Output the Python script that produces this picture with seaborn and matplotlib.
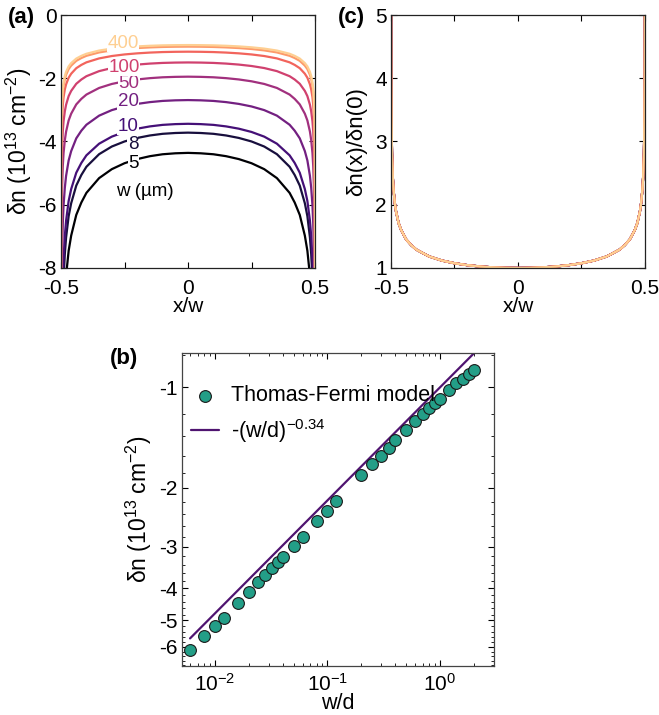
import numpy as np
import pandas as pd
import seaborn as sns
import matplotlib.pyplot as plt
from matplotlib.ticker import FixedLocator, NullFormatter, LogLocator

# ---- data ----
# (a) channel widths (um) and the density at the centre x = 0 (1e13 cm^-2)
widths_um = [5, 8, 10, 20, 50, 100, 200, 300, 400]
dn_center = [-4.36, -3.72, -3.44, -2.69, -1.95, -1.50, -1.16, -1.00, -0.95]
width_labels = ["5", "8", "10", "20", "50", "100", "", "", "400"]

# (c) profile dn(x)/dn(0), half of the channel (symmetric)
x_half = [0.0, 0.05, 0.10, 0.15, 0.20, 0.25, 0.30, 0.35, 0.40, 0.42, 0.44, 0.46,
          0.47, 0.48, 0.485, 0.49, 0.493, 0.496, 0.498, 0.499, 0.4995, 0.4999, 0.49999]
ratio_half = [1.0, 1.003, 1.01, 1.024, 1.045, 1.075, 1.118, 1.183, 1.29, 1.36, 1.45, 1.60,
              1.71, 1.89, 2.03, 2.24, 2.45, 2.82, 3.35, 3.98, 4.73, 7.07, 12.6]

# (b) Thomas-Fermi model points and power-law line
wd = [0.0060, 0.0080, 0.010, 0.012, 0.016, 0.020, 0.024, 0.028, 0.032, 0.036, 0.040,
      0.050, 0.060, 0.080, 0.10, 0.12, 0.20, 0.25, 0.30, 0.35, 0.40, 0.50, 0.60, 0.70,
      0.80, 0.90, 1.0, 1.2, 1.4, 1.6, 1.8, 2.0]
dn_tf = [-6.13, -5.56, -5.21, -4.90, -4.43, -4.10, -3.84, -3.65, -3.49, -3.34, -3.23,
         -2.99, -2.81, -2.52, -2.34, -2.19, -1.83, -1.70, -1.60, -1.52, -1.44, -1.34, -1.26, -1.20,
         -1.15, -1.11, -1.08, -1.016, -0.97, -0.94, -0.91, -0.886]
fit_wd = [0.006, 2.0]
fit_dn = [-5.66, -0.79]

sns.set_theme(style="ticks")
plt.rcParams['font.family'] = ['Liberation Sans', 'DejaVu Sans']
plt.rcParams['mathtext.default'] = 'regular'
plt.rcParams['axes.unicode_minus'] = False
for key in ('text.color', 'axes.labelcolor', 'xtick.color', 'ytick.color'):
    plt.rcParams[key] = 'black'

TICK = 15
LAB = 15

fig = plt.figure(figsize=(6.59, 7.15), dpi=100)
ax_a = fig.add_axes([0.0926, 0.6252, 0.3854, 0.3538])
ax_c = fig.add_axes([0.5933, 0.6252, 0.3854, 0.3538])
ax_b = fig.add_axes([0.2762, 0.0685, 0.4734, 0.4378])

colors = plt.get_cmap('magma')(np.linspace(0, 0.9, len(widths_um)))

# full profile across the channel
x_full = np.concatenate([-np.array(x_half[::-1]), np.array(x_half[1:])])
r_full = np.concatenate([np.array(ratio_half[::-1]), np.array(ratio_half[1:])])

# ---- (a) ----
for w, d0, c in zip(widths_um, dn_center, colors):
    sns.lineplot(x=x_full, y=d0 * r_full, color=c, lw=1.6, ax=ax_a,
                 sort=False, estimator=None)

lab_pos = {"400": (-0.256, -0.89), "100": (-0.252, -1.65), "50": (-0.232, -2.18),
           "20": (-0.236, -2.75), "10": (-0.236, -3.51), "8": (-0.217, -4.08),
           "5": (-0.213, -4.68)}
for lab, c in zip(width_labels, colors):
    if lab:
        px, py = lab_pos[lab]
        ax_a.text(px, py, lab, color=c, fontsize=13.5, ha='center', va='center', zorder=5,
                  bbox=dict(facecolor='white', edgecolor='none', pad=0.2))
ax_a.text(-0.169, -5.57, "w (µm)", fontsize=13.5, ha='center', va='center')

ax_a.set_xlim(-0.5, 0.5)
ax_a.set_ylim(-8, 0)
ax_a.set_xticks([-0.5, -0.25, 0, 0.25, 0.5])
ax_a.set_xticklabels(['-0.5', '', '0', '', '0.5'])
ax_a.set_yticks([-8, -6, -4, -2, 0])
ax_a.set_xlabel('x/w', fontsize=LAB, labelpad=-1)
ax_a.set_ylabel('δn (10$^{13}$ cm$^{-2}$)', fontsize=16.5, labelpad=3)

# ---- (c) ----
for w, d0, c in zip(widths_um, dn_center, colors):
    sns.lineplot(x=x_full, y=(d0 * r_full) / d0, color=c, lw=1.6, ax=ax_c,
                 sort=False, estimator=None)
ax_c.set_xlim(-0.5, 0.5)
ax_c.set_ylim(1, 5)
ax_c.set_xticks([-0.5, -0.25, 0, 0.25, 0.5])
ax_c.set_xticklabels(['-0.5', '', '0', '', '0.5'])
ax_c.set_yticks([1, 2, 3, 4, 5])
ax_c.set_xlabel('x/w', fontsize=LAB, labelpad=-1)
ax_c.set_ylabel('δn(x)/δn(0)', fontsize=16, labelpad=6)

# ---- (b) ----
sns.scatterplot(x=wd, y=-np.array(dn_tf), s=72, color='#239e87', edgecolor='#1a1a1a',
                linewidth=0.8, ax=ax_b, label='Thomas-Fermi model', zorder=3)
sns.lineplot(x=fit_wd, y=-np.array(fit_dn), color='#4f1470', lw=1.6, ax=ax_b,
             label='-(w/d)$^{-0.34}$', zorder=2)
ax_b.set_xscale('log')
ax_b.set_yscale('log')
ax_b.set_xlim(0.00509, 3.02)
ax_b.set_ylim(6.85, 0.788)
ax_b.set_yticks([1, 2, 3, 4, 5, 6])
ax_b.set_yticklabels(['-1', '-2', '-3', '-4', '-5', '-6'])
ax_b.yaxis.set_minor_locator(FixedLocator([0.8, 1.2, 1.4, 1.6, 1.8, 2.2, 2.4, 2.6, 2.8,
                                           3.2, 3.4, 3.6, 3.8, 4.2, 4.4, 4.6, 4.8,
                                           5.2, 5.4, 5.6, 5.8, 6.2, 6.4, 6.6, 6.8]))
ax_b.yaxis.set_minor_formatter(NullFormatter())
ax_b.xaxis.set_major_locator(LogLocator(base=10, numticks=10))
ax_b.xaxis.set_minor_locator(LogLocator(base=10, subs=np.arange(2, 10), numticks=20))
ax_b.xaxis.set_minor_formatter(NullFormatter())
ax_b.set_xlabel('w/d', fontsize=15.5, labelpad=-1)
ax_b.set_ylabel('δn (10$^{13}$ cm$^{-2}$)', fontsize=16.5, labelpad=4)
ax_b.legend(loc='upper left', bbox_to_anchor=(-0.02, 0.945), frameon=False, fontsize=15.5,
            handlelength=1.3, handletextpad=0.55, labelspacing=0.5, borderaxespad=0.3)

for ax in (ax_a, ax_c, ax_b):
    ax.tick_params(which='both', direction='in', top=True, right=True,
                   labelsize=TICK)
    ax.tick_params(axis='x', which='both', pad=8)
    ax.tick_params(axis='y', which='both', pad=3)
    ax.tick_params(which='major', length=4, width=0.8)
    ax.tick_params(which='minor', length=2, width=0.6)
    for sp in ax.spines.values():
        sp.set_linewidth(0.9)
        sp.set_color('#222222')
ax_b.tick_params(axis='x', which='both', pad=5)
for sp in ax_b.spines.values():
    sp.set_color('#444444')

fig.text(0.012, 0.976, '(a)', fontsize=16, fontweight='bold', va='center')
fig.text(0.513, 0.976, '(c)', fontsize=16, fontweight='bold', va='center')
fig.text(0.167, 0.499, '(b)', fontsize=16, fontweight='bold', va='center')

fig.savefig('out.png', dpi=100)
